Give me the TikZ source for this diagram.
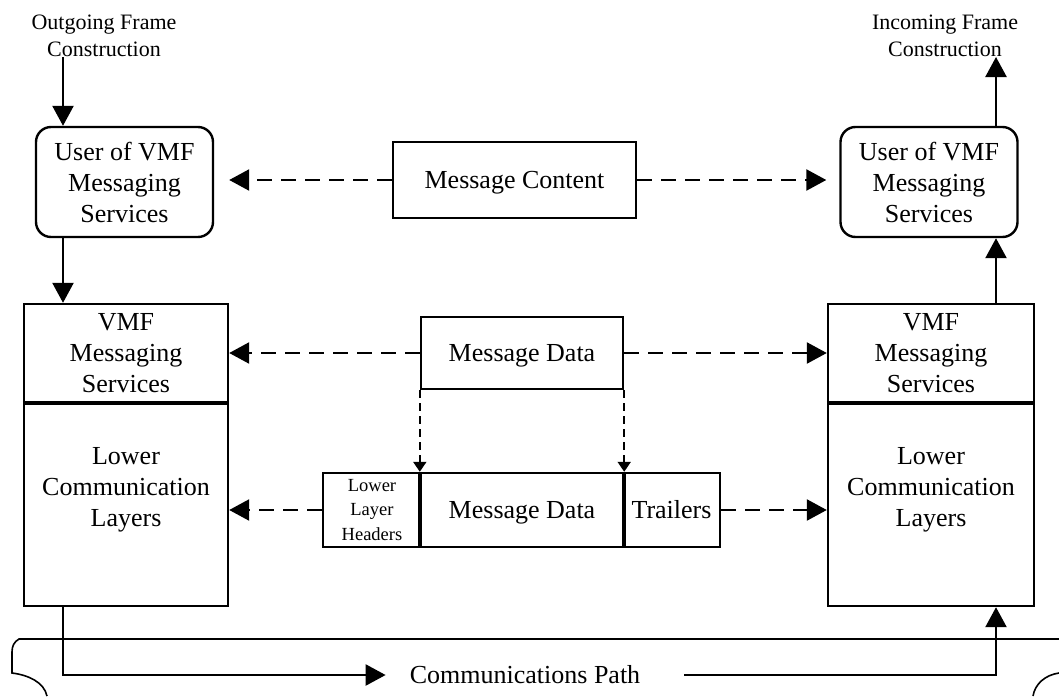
\documentclass[tikz,border=0pt]{standalone}
\usepackage{fontspec}
\setmainfont{Liberation Serif}
\usetikzlibrary{arrows.meta}
\begin{document}
\begin{tikzpicture}[x=1pt,y=-1pt, line width=2.4pt,
  big/.style={font=\fontsize{26}{31}\selectfont, align=center},
  small/.style={font=\fontsize{22}{27}\selectfont, align=center},
  tiny/.style={font=\fontsize{18.5}{24.5}\selectfont, align=center},
  box/.style={draw, inner sep=0pt, minimum width=#1},
  oneline/.style={text height=17pt, text depth=0pt},
  userbox/.style={draw, rounded corners=15pt, inner sep=0pt, minimum width=177pt, minimum height=110pt, big},
  bigtip/.style={-{Triangle[length=20pt,width=21pt]}},
  smalltip/.style={-{Triangle[length=10pt,width=13pt]}},
  longdash/.style={dash pattern=on 15pt off 9pt},
  shortdash/.style={dash pattern=on 8pt off 5pt, line width=2pt},
  thickdiv/.style={line width=4.5pt}
]
\useasboundingbox (0,0) rectangle (1059,696);
\clip (0,0) rectangle (1059,696);

% top labels
\node[small] (og) at (104,36) {Outgoing Frame\\Construction};
\node[small] (icl) at (945,36) {Incoming Frame\\Construction};
\coordinate (ogs) at (63,57);
\coordinate (ics) at (996,57);

% user boxes
\node[userbox] (lu) at (124.5,182) {User of VMF\\Messaging\\Services};
\node[userbox] (ru) at (929,182) {User of VMF\\Messaging\\Services};

% message content
\node[box=243pt, minimum height=76pt, big, oneline] (mc) at (514.5,180) {Message Content};

% left VMF stack
\node[box=204pt, minimum height=98pt, big] (lv) at (126,353) {VMF\\Messaging\\Services};
\node[box=204pt, minimum height=204pt] (ll) at (126,504) {};
\node[big] (llt) at (126,490) {Lower\\Communication\\Layers};
\draw[thickdiv] (lv.south west) -- (lv.south east);

% right VMF stack
\node[box=206pt, minimum height=98pt, big] (rv) at (931,353) {VMF\\Messaging\\Services};
\node[box=206pt, minimum height=204pt] (rl) at (931,504) {};
\node[big] (rlt) at (931,490) {Lower\\Communication\\Layers};
\draw[thickdiv] (rv.south west) -- (rv.south east);

% message data (upper)
\node[box=202pt, minimum height=72pt, big, oneline] (md) at (522,353) {Message Data};

% lower frame
\node[box=98pt, minimum height=74pt, tiny] (hdr) at (372,510) {Lower\\Layer\\Headers};
\node[box=202pt, minimum height=74pt, big, oneline] (mdl) at (522,510) {Message Data};
\node[box=97pt, minimum height=74pt, big, oneline] (trl) at (671.5,510) {Trailers};
\draw[thickdiv] (mdl.north west) -- (mdl.south west);
\draw[thickdiv] (mdl.north east) -- (mdl.south east);

% solid arrows
\draw[bigtip] (ogs) -- (lu.north -| ogs);
\draw[bigtip] (lu.south -| ogs) -- (lv.north -| ogs);
\draw[bigtip] (rv.north -| ics) -- (ru.south -| ics);
\draw[bigtip] (ru.north -| ics) -- (ics);

% dashed arrows
\draw[bigtip, longdash, shorten >=15pt] (mc.west) -- (mc.west -| lu.east);
\draw[bigtip, longdash, shorten >=13pt] (mc.east) -- (mc.east -| ru.west);
\draw[bigtip, longdash] (md.west) -- (md.west -| lv.east);
\draw[bigtip, longdash] (md.east) -- (md.east -| rv.west);
\draw[bigtip, longdash] (hdr.west) -- (hdr.west -| ll.east);
\draw[bigtip, longdash] (trl.east) -- (trl.east -| rl.west);
\draw[smalltip, shortdash] (md.south west) -- (mdl.north west);
\draw[smalltip, shortdash] (md.south east) -- (mdl.north east);

% communications path
\node[big, inner sep=0pt] (cp) at (525,675) {Communications Path};
\draw[bigtip, shorten >=23pt] (ll.south -| ogs) |- (cp.west);
\draw[bigtip, shorten <=43pt] (cp.east) -| (rl.south -| ics);

% tape outline
\draw[line width=1.6pt] (1059,639) -- (19,639) .. controls (14,642) and (12,646) .. (12,652) -- (12,673) .. controls (28,675) and (44,682) .. (47,696);
\draw[line width=1.6pt] (1033,696) .. controls (1035,684) and (1045,675) .. (1059,673);
\end{tikzpicture}
\end{document}
